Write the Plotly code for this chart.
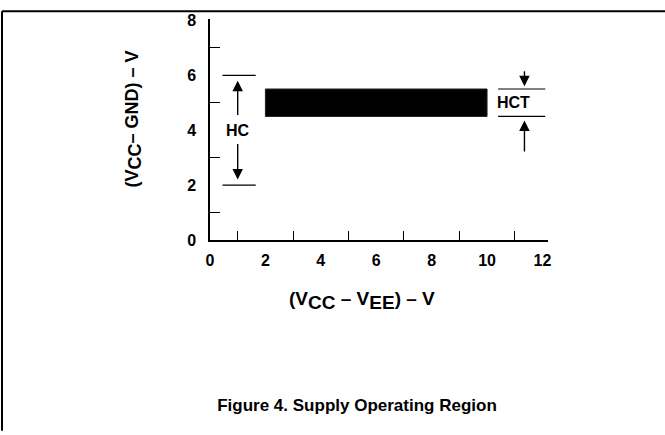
import plotly.graph_objects as go

# ---- data ----
x_ticks = [0, 2, 4, 6, 8, 10, 12]
x_minor = [1, 3, 5, 7, 9, 11]
y_ticks = [0, 2, 4, 6, 8]
y_minor = [1, 3, 5, 7]

hct_vee = [2, 10]        # (Vcc - Vee) span of the HCT operating region
hct_vcc = [4.5, 5.5]     # (Vcc - GND) span of HCT
hc_vcc = [2, 6]          # (Vcc - GND) span of HC

hc_marker_x = [0.45, 1.65]
hc_arrow_x = 1.0
hct_marker_x = [10.4, 12.1]
hct_arrow_x = 11.35

FONT = "Liberation Sans, Arial, Helvetica, sans-serif"

fig = go.Figure()

# HCT operating region (black bar)
fig.add_trace(go.Bar(
    x=[(hct_vee[0] + hct_vee[1]) / 2],
    y=[hct_vcc[1] - hct_vcc[0]],
    base=[hct_vcc[0]],
    width=[hct_vee[1] - hct_vee[0]],
    marker=dict(color="black", line=dict(color="#222", width=1)),
    hoverinfo="skip", showlegend=False,
))

# HC limit lines
for v in hc_vcc:
    fig.add_trace(go.Scatter(x=hc_marker_x, y=[v, v], mode="lines",
                             line=dict(color="black", width=1.2),
                             hoverinfo="skip", showlegend=False))
# HCT limit lines
for v in hct_vcc:
    fig.add_trace(go.Scatter(x=hct_marker_x, y=[v, v], mode="lines",
                             line=dict(color="black", width=1.2),
                             hoverinfo="skip", showlegend=False))

def arrow(x, y, ax, ay):
    fig.add_annotation(x=x, y=y, ax=ax, ay=ay, xref="x", yref="y",
                       axref="x", ayref="y", text="", showarrow=True,
                       arrowhead=2, arrowsize=1.5, arrowwidth=1.4,
                       arrowcolor="black", standoff=0, startstandoff=0)

# HC arrows
arrow(hc_arrow_x, hc_vcc[1] - 0.2, hc_arrow_x, 4.5)
arrow(hc_arrow_x, hc_vcc[0] + 0.2, hc_arrow_x, 3.55)
# HCT arrows
arrow(hct_arrow_x, hct_vcc[1] + 0.1, hct_arrow_x, 6.2)
arrow(hct_arrow_x, hct_vcc[0] - 0.15, hct_arrow_x, 3.17)

fig.add_annotation(x=hc_arrow_x, y=4.0, xref="x", yref="y", text="HC",
                   showarrow=False, xanchor="center", yanchor="middle",
                   font=dict(family=FONT, size=16, color="black", weight="bold"))
fig.add_annotation(x=10.95, y=5.0, xref="x", yref="y", text="HCT",
                   showarrow=False, xanchor="center", yanchor="middle",
                   font=dict(family=FONT, size=16, color="black", weight="bold"))

def sub(s, size):
    return f'<sub><span style="font-size:{size}px">{s}</span></sub>'

# axis titles
fig.add_annotation(x=0.45, y=-0.273, xref="paper", yref="paper",
                   xanchor="center", yanchor="middle",
                   text=f"(V{sub('CC', 19)} – V{sub('EE', 19)}) – V", showarrow=False,
                   font=dict(family=FONT, size=19, color="black", weight="bold"))
fig.add_annotation(x=-0.225, y=0.55, xref="paper", yref="paper",
                   xanchor="center", yanchor="middle",
                   text=f"(V{sub('CC', 18)}– GND) – V", showarrow=False, textangle=-90,
                   font=dict(family=FONT, size=18, color="black", weight="bold"))

# frame lines (top and left)
L, R, T, B = 210, 117, 13, 195
W, H = 665, 435
pw, ph = W - L - R, H - T - B
def px_x(p): return (p - L) / pw
def px_y(p): return (H - B - p) / ph
fig.add_shape(type="line", xref="paper", yref="paper",
              x0=px_x(2), x1=px_x(666), y0=px_y(5), y1=px_y(5),
              line=dict(color="black", width=2))
fig.add_shape(type="line", xref="paper", yref="paper",
              x0=px_x(2), x1=px_x(2), y0=px_y(5), y1=px_y(436),
              line=dict(color="black", width=2))

axis_font = dict(family=FONT, size=16, color="black", weight="bold")
fig.update_xaxes(range=[0, 12.2], tickvals=x_ticks, ticktext=[str(v) for v in x_ticks],
                 ticks="", showgrid=False, zeroline=False,
                 showline=True, linecolor="black", linewidth=1.5,
                 tickfont=axis_font, ticklabelstandoff=5,
                 minor=dict(tickvals=x_minor, ticks="inside", ticklen=9,
                            tickwidth=1.3, tickcolor="black", showgrid=False))
fig.update_yaxes(range=[0, 8.05], tickvals=y_ticks, ticktext=[str(v) for v in y_ticks],
                 ticks="", showgrid=False, zeroline=False,
                 showline=True, linecolor="black", linewidth=1.5,
                 tickfont=axis_font, ticklabelstandoff=9,
                 minor=dict(tickvals=y_minor, ticks="inside", ticklen=10,
                            tickwidth=1.3, tickcolor="black", showgrid=False))

fig.update_layout(
    width=W, height=H,
    margin=dict(l=L, r=R, t=T, b=B, pad=0),
    paper_bgcolor="white", plot_bgcolor="white",
    title=dict(text="Figure 4. Supply Operating Region", x=357 / W, y=1 - 405 / H,
               xanchor="center", yanchor="middle", xref="container", yref="container",
               font=dict(family=FONT, size=17, color="black", weight="bold")),
    showlegend=False,
)

fig.write_html("out.html", config={"displayModeBar": False},
               post_script="document.body.style.margin='0';document.body.style.overflow='hidden';")
